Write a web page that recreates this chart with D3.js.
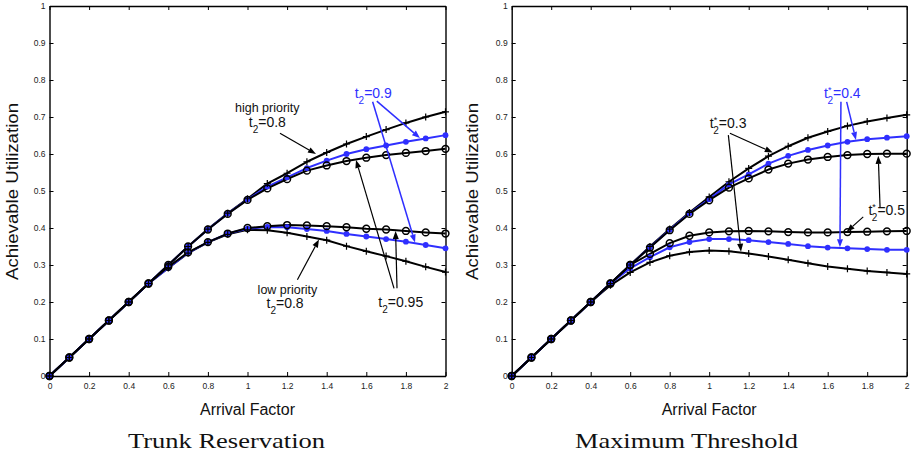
<!DOCTYPE html>
<html>
<head>
<meta charset="utf-8">
<script src="https://cdn.jsdelivr.net/npm/d3@7"></script>
<style>
  body { margin: 0; background: #fff; }
  svg { display: block; }
</style>
</head>
<body>
<div id="chart"></div>
<script>
// x values shared by every curve
const arrivalFactor = [0, 0.1, 0.2, 0.3, 0.4, 0.5, 0.6, 0.7, 0.8, 0.9, 1.0,
                       1.1, 1.2, 1.3, 1.4, 1.5, 1.6, 1.7, 1.8, 1.9, 2.0]
const xTicks = [0, 0.2, 0.4, 0.6, 0.8, 1, 1.2, 1.4, 1.6, 1.8, 2]
const xTickLabels = ['0', '0.2', '0.4', '0.6', '0.8', '1', '1.2', '1.4', '1.6', '1.8', '2']
const yTicks = [0, 0.1, 0.2, 0.3, 0.4, 0.5, 0.6, 0.7, 0.8, 0.9, 1]
const yTickLabels = ['0', '0.1', '0.2', '0.3', '0.4', '0.5', '0.6', '0.7', '0.8', '0.9', '1']

// Trunk Reservation (left)
const trHighT080 = [0, 0.05, 0.1, 0.15, 0.2, 0.25, 0.30, 0.35, 0.397, 0.440, 0.479,
                    0.520, 0.548, 0.579, 0.604, 0.627, 0.647, 0.666, 0.684, 0.700, 0.714]
const trHighT090 = [0, 0.05, 0.1, 0.15, 0.2, 0.25, 0.30, 0.35, 0.396, 0.439, 0.477,
                    0.512, 0.537, 0.562, 0.582, 0.600, 0.613, 0.623, 0.633, 0.642, 0.651]
const trHighT095 = [0, 0.05, 0.1, 0.15, 0.2, 0.25, 0.30, 0.35, 0.396, 0.438, 0.476,
                    0.507, 0.532, 0.555, 0.569, 0.581, 0.590, 0.597, 0.603, 0.608, 0.614]
const trLowT080  = [0, 0.05, 0.1, 0.15, 0.2, 0.25, 0.292, 0.332, 0.361, 0.383, 0.395,
                    0.394, 0.387, 0.377, 0.367, 0.351, 0.337, 0.324, 0.310, 0.295, 0.281]
const trLowT090  = [0, 0.05, 0.1, 0.15, 0.2, 0.25, 0.292, 0.333, 0.362, 0.385, 0.398,
                    0.403, 0.402, 0.397, 0.392, 0.384, 0.377, 0.370, 0.363, 0.354, 0.345]
const trLowT095  = [0, 0.05, 0.1, 0.15, 0.2, 0.25, 0.295, 0.334, 0.362, 0.385, 0.400,
                    0.405, 0.408, 0.407, 0.405, 0.402, 0.398, 0.396, 0.392, 0.388, 0.385]

// Maximum Threshold (right)
const mtHighT03 = [0, 0.05, 0.1, 0.15, 0.2, 0.25, 0.30, 0.35, 0.397, 0.442, 0.484,
                   0.525, 0.561, 0.594, 0.621, 0.644, 0.661, 0.676, 0.688, 0.697, 0.706]
const mtHighT04 = [0, 0.05, 0.1, 0.15, 0.2, 0.25, 0.30, 0.348, 0.395, 0.440, 0.478,
                   0.518, 0.545, 0.574, 0.595, 0.611, 0.623, 0.633, 0.640, 0.644, 0.648]
const mtHighT05 = [0, 0.05, 0.1, 0.15, 0.2, 0.25, 0.30, 0.347, 0.394, 0.438, 0.475,
                   0.509, 0.534, 0.558, 0.574, 0.585, 0.592, 0.597, 0.600, 0.601, 0.601]
const mtLowT03  = [0, 0.05, 0.1, 0.15, 0.2, 0.245, 0.280, 0.307, 0.325, 0.335, 0.339,
                   0.337, 0.331, 0.323, 0.314, 0.305, 0.296, 0.290, 0.284, 0.280, 0.276]
const mtLowT04  = [0, 0.05, 0.1, 0.15, 0.2, 0.25, 0.291, 0.321, 0.348, 0.362, 0.370,
                   0.370, 0.367, 0.362, 0.357, 0.351, 0.347, 0.345, 0.343, 0.341, 0.341]
const mtLowT05  = [0, 0.05, 0.1, 0.15, 0.2, 0.25, 0.300, 0.330, 0.359, 0.379, 0.388,
                   0.391, 0.392, 0.391, 0.389, 0.388, 0.388, 0.389, 0.390, 0.391, 0.392]

const BLUE = '#2f2fff'
const SANS = '"Liberation Sans", Arial, Helvetica, sans-serif'

const panels = [
    {
        left: 49.5, right: 445.5,
        yLabelX: 17.5,
        title: 'Trunk Reservation', titleX: 226.5, titleW: 197,
        series: [
            {values: trHighT080, mark: 'plus'},
            {values: trLowT080,  mark: 'plus'},
            {values: trHighT090, mark: 'dot'},
            {values: trLowT090,  mark: 'dot'},
            {values: trHighT095, mark: 'circle'},
            {values: trLowT095,  mark: 'circle'}
        ],
        notes: [
            {kind: 'text', x: 1.10, y: 0.713, text: 'high priority'},
            {kind: 't', x: 1.10, y: 0.673, value: '0.8'},
            {kind: 'arrow', from: [1.164, 0.656], to: [1.346, 0.600]},
            {kind: 't', x: 1.635, y: 0.751, value: '0.9', color: BLUE},
            {kind: 'arrow', from: [1.653, 0.743], to: [1.871, 0.643], color: BLUE},
            {kind: 'arrow', from: [1.632, 0.741], to: [1.846, 0.361], color: BLUE},
            {kind: 'text', x: 1.202, y: 0.222, text: 'low priority'},
            {kind: 't', x: 1.19, y: 0.183, value: '0.8'},
            {kind: 'arrow', from: [1.252, 0.260], to: [1.361, 0.369]},
            {kind: 't', x: 1.774, y: 0.187, value: '0.95'},
            {kind: 'arrow', from: [1.740, 0.237], to: [1.548, 0.584]},
            {kind: 'arrow', from: [1.755, 0.237], to: [1.748, 0.392]}
        ]
    },
    {
        left: 511.7, right: 906.7,
        yLabelX: 477.5,
        title: 'Maximum Threshold', titleX: 686.5, titleW: 223,
        series: [
            {values: mtHighT03, mark: 'plus'},
            {values: mtLowT03,  mark: 'plus'},
            {values: mtHighT04, mark: 'dot'},
            {values: mtLowT04,  mark: 'dot'},
            {values: mtHighT05, mark: 'circle'},
            {values: mtLowT05,  mark: 'circle'}
        ],
        notes: [
            {kind: 't', x: 1.096, y: 0.669, value: '0.3', star: true},
            {kind: 'arrow', from: [1.105, 0.656], to: [1.322, 0.604]},
            {kind: 'arrow', from: [1.097, 0.651], to: [1.161, 0.336]},
            {kind: 't', x: 1.674, y: 0.751, value: '0.4', star: true, color: BLUE},
            {kind: 'arrow', from: [1.696, 0.741], to: [1.743, 0.638], color: BLUE},
            {kind: 'arrow', from: [1.667, 0.741], to: [1.662, 0.348], color: BLUE},
            {kind: 't', x: 1.899, y: 0.435, value: '0.5', star: true},
            {kind: 'arrow', from: [1.865, 0.457], to: [1.856, 0.595]},
            {kind: 'arrow', from: [1.780, 0.430], to: [1.696, 0.390]}
        ]
    }
]

const svg = d3.select('#chart').append('svg')
    .attr('width', 911)
    .attr('height', 457)

function drawArrow(g, x1, y1, x2, y2, color) {
    let dx = x2 - x1, dy = y2 - y1
    let len = Math.hypot(dx, dy)
    let ux = dx / len, uy = dy / len
    let hl = 8, hw = 3
    let bx = x2 - ux * hl, by = y2 - uy * hl
    g.append('line')
        .attr('x1', x1).attr('y1', y1)
        .attr('x2', bx).attr('y2', by)
        .attr('stroke', color)
        .attr('stroke-width', color === BLUE ? 1.5 : 1.2)
    g.append('path')
        .attr('d', `M${x2},${y2}L${bx - uy * hw},${by + ux * hw}L${bx + uy * hw},${by - ux * hw}Z`)
        .attr('fill', color)
}

function drawTLabel(g, px, py, note) {
    let color = note.color || '#111'
    let t = g.append('text')
        .attr('x', px).attr('y', py)
        .attr('text-anchor', 'middle')
        .attr('font-family', SANS)
        .attr('font-size', 14)
        .attr('fill', color)
    t.append('tspan').text('t')
    if (note.star) {
        t.append('tspan').attr('font-size', 9).attr('dy', -5).text('*')
        t.append('tspan').attr('font-size', 10).attr('dx', -4).attr('dy', 11).text('2')
    } else {
        t.append('tspan').attr('font-size', 10).attr('dy', 6).text('2')
    }
    t.append('tspan').attr('dy', -6).text('=' + note.value)
}

function drawPanel(p) {
    let x = d3.scaleLinear().domain([0, 2]).range([p.left, p.right])
    let y = d3.scaleLinear().domain([0, 1]).range([376, 6])
    let g = svg.append('g')

    // axes, MATLAB style: inward ticks on all four sides
    let styleAxis = a => {
        a.selectAll('text').attr('font-family', SANS).attr('font-size', 8.5).attr('fill', '#222')
        a.selectAll('line').attr('stroke', '#000').attr('stroke-width', 1)
        a.select('.domain').attr('stroke', '#000').attr('stroke-width', 1.4)
    }
    g.append('g')
        .attr('transform', 'translate(0,376)')
        .call(d3.axisBottom(x).tickValues(xTicks).tickSize(-4).tickSizeOuter(0).tickPadding(6.5)
            .tickFormat((d, i) => xTickLabels[i]))
        .call(styleAxis)
    g.append('g')
        .attr('transform', 'translate(0,6)')
        .call(d3.axisTop(x).tickValues(xTicks).tickSize(-4).tickSizeOuter(0).tickFormat(''))
        .call(styleAxis)
    g.append('g')
        .attr('transform', 'translate(' + p.left + ',0)')
        .call(d3.axisLeft(y).tickValues(yTicks).tickSize(-4).tickSizeOuter(0).tickPadding(4)
            .tickFormat((d, i) => yTickLabels[i]))
        .call(styleAxis)
    g.append('g')
        .attr('transform', 'translate(' + p.right + ',0)')
        .call(d3.axisRight(y).tickValues(yTicks).tickSize(-4).tickSizeOuter(0).tickFormat(''))
        .call(styleAxis)

    // curves
    let line = d3.line()
        .x((d, i) => x(arrivalFactor[i]))
        .y(d => y(d))

    p.series.forEach(s => {
        let color = s.mark === 'dot' ? BLUE : '#000'
        g.append('path')
            .datum(s.values)
            .attr('d', line)
            .attr('fill', 'none')
            .attr('stroke', color)
            .attr('stroke-width', 2)
            .attr('stroke-linejoin', 'round')
    })

    // markers: blue dots under the black circles and plus signs
    let drawOrder = ['dot', 'circle', 'plus']
    drawOrder.forEach(mark => {
        p.series.filter(s => s.mark === mark).forEach(s => {
            let pts = s.values.map((v, i) => [x(arrivalFactor[i]), y(v)])
            if (mark === 'plus') {
                g.append('g').selectAll('path')
                    .data(pts)
                    .join('path')
                        .attr('d', d => `M${d[0] - 3.5},${d[1]}h7M${d[0]},${d[1] - 3.5}v7`)
                        .attr('stroke', '#000')
                        .attr('stroke-width', 1.2)
            } else if (mark === 'dot') {
                g.append('g').selectAll('circle')
                    .data(pts)
                    .join('circle')
                        .attr('cx', d => d[0]).attr('cy', d => d[1])
                        .attr('r', 2.9)
                        .attr('fill', BLUE)
            } else {
                g.append('g').selectAll('circle')
                    .data(pts)
                    .join('circle')
                        .attr('cx', d => d[0]).attr('cy', d => d[1])
                        .attr('r', 3.4)
                        .attr('fill', 'none')
                        .attr('stroke', '#000')
                        .attr('stroke-width', 1.5)
            }
        })
    })

    // annotations
    p.notes.forEach(n => {
        if (n.kind === 'arrow') {
            drawArrow(g, x(n.from[0]), y(n.from[1]), x(n.to[0]), y(n.to[1]), n.color || '#000')
        } else if (n.kind === 't') {
            drawTLabel(g, x(n.x), y(n.y), n)
        } else {
            g.append('text')
                .attr('x', x(n.x)).attr('y', y(n.y))
                .attr('text-anchor', 'middle')
                .attr('font-family', SANS)
                .attr('font-size', 12.5)
                .attr('fill', '#111')
                .text(n.text)
        }
    })

    // axis titles
    g.append('text')
        .attr('x', (p.left + p.right) / 2).attr('y', 415)
        .attr('text-anchor', 'middle')
        .attr('font-family', SANS)
        .attr('font-size', 16)
        .attr('textLength', 95)
        .attr('lengthAdjust', 'spacingAndGlyphs')
        .attr('fill', '#111')
        .text('Arrival Factor')
    g.append('text')
        .attr('transform', 'translate(' + p.yLabelX + ',191.5) rotate(-90)')
        .attr('text-anchor', 'middle')
        .attr('font-family', SANS)
        .attr('font-size', 17)
        .attr('textLength', 177)
        .attr('lengthAdjust', 'spacingAndGlyphs')
        .attr('fill', '#111')
        .text('Achievable Utilization')

    // caption under each panel
    g.append('text')
        .attr('x', p.titleX).attr('y', 448)
        .attr('text-anchor', 'middle')
        .attr('font-family', '"Liberation Serif", "Times New Roman", serif')
        .attr('font-size', 22)
        .attr('textLength', p.titleW)
        .attr('lengthAdjust', 'spacingAndGlyphs')
        .attr('fill', '#111')
        .text(p.title)
}

panels.forEach(drawPanel)
</script>
</body>
</html>
